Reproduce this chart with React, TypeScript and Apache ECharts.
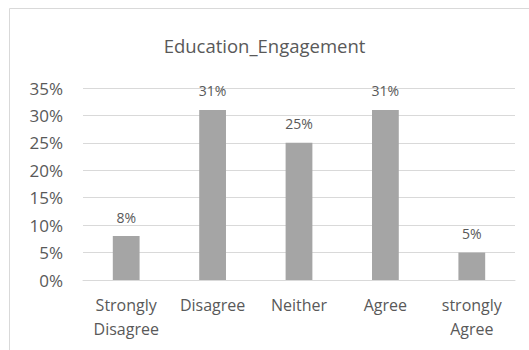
import React, { useEffect, useRef } from "react";
import * as echarts from "echarts";

const categories = ["Strongly\nDisagree", "Disagree", "Neither", "Agree", "strongly\nAgree"];
const values = [0.08, 0.31, 0.25, 0.31, 0.05];
const titleText = "Education_Engagement";

export default function App() {
  const ref = useRef<HTMLDivElement>(null);
  useEffect(() => {
    if (!ref.current) return;
    const chart = echarts.init(ref.current, undefined, { renderer: "svg" });
    const font = "'Open Sans', sans-serif";
    chart.setOption({
      animation: false,
      backgroundColor: "#ffffff",
      title: {
        text: titleText,
        left: "center",
        top: 31,
        textStyle: { fontFamily: font, fontSize: 18.5, fontWeight: "normal", color: "#595959" },
      },
      graphic: [
        {
          type: "rect",
          shape: { x: 9.5, y: 8.5, width: 600, height: 400 },
          style: { fill: "none", stroke: "#d9d9d9", lineWidth: 1 },
          silent: true,
        },
      ],
      grid: { left: 83, right: 14, top: 88, bottom: 70 },
      xAxis: {
        type: "category",
        data: categories,
        axisLine: { lineStyle: { color: "#d9d9d9" } },
        axisTick: { show: false },
        axisLabel: { fontFamily: font, fontSize: 16, color: "#595959", margin: 13, lineHeight: 24, interval: 0 },
      },
      yAxis: {
        type: "value",
        min: 0,
        max: 0.35,
        interval: 0.05,
        axisLine: { show: false },
        axisTick: { show: false },
        splitLine: { lineStyle: { color: "#d9d9d9" } },
        axisLabel: {
          fontFamily: font,
          fontSize: 17,
          color: "#595959",
          margin: 20,
          formatter: (v: number) => Math.round(v * 100) + "%",
        },
      },
      series: [
        {
          type: "bar",
          data: values,
          barWidth: "31%",
          itemStyle: { color: "#a5a5a5" },
          label: {
            show: true,
            position: "top",
            distance: 12,
            fontFamily: font,
            fontSize: 14,
            color: "#595959",
            formatter: (p: any) => Math.round(p.value * 100) + "%",
          },
        },
      ],
    });
    return () => chart.dispose();
  }, []);
  return <div ref={ref} style={{ position: "fixed", left: 0, top: 0, width: 529, height: 350 }} />;
}
